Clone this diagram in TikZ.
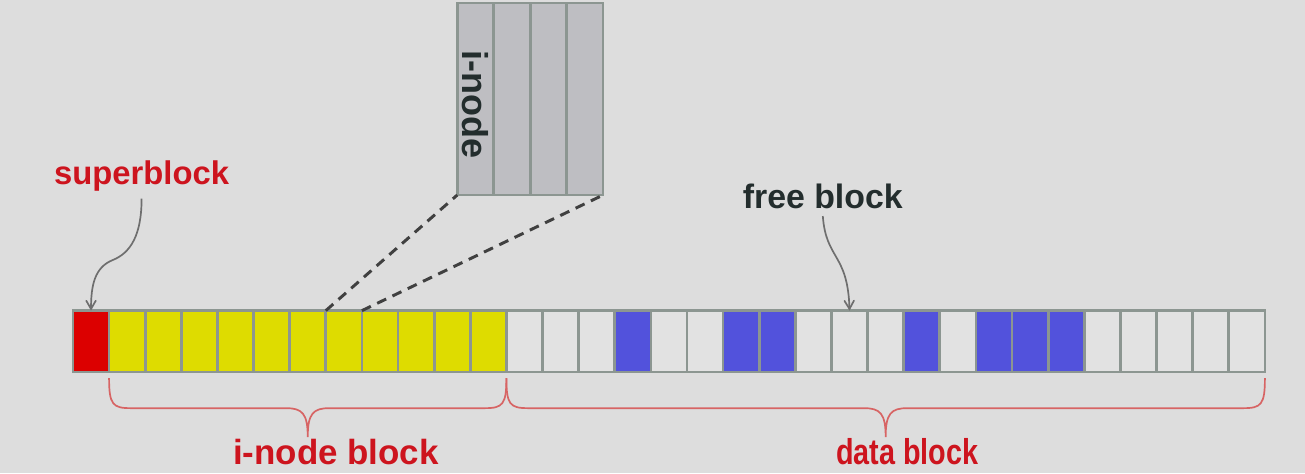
\documentclass[tikz,border=0pt]{standalone}
\usepackage{fontspec}
\setmainfont{Liberation Sans}
\usetikzlibrary{arrows}
\definecolor{bgcolor}{RGB}{221,221,221}
\definecolor{sbred}{RGB}{220,0,0}
\definecolor{inyellow}{RGB}{222,220,0}
\definecolor{usedblue}{RGB}{82,82,220}
\definecolor{freegray}{RGB}{226,226,226}
\definecolor{cellline}{RGB}{140,150,145}
\definecolor{slotgray}{RGB}{190,190,194}
\definecolor{labelred}{RGB}{205,20,30}
\definecolor{bracered}{RGB}{215,100,100}
\definecolor{arrowgray}{RGB}{110,110,110}
\definecolor{darktext}{RGB}{35,45,45}
\tikzset{
  cell/.style={
    rectangle,
    draw=cellline,
    line width=1.3pt,
    minimum width=0.6cm,
    minimum height=1.02cm,
    inner sep=0pt,
    outer sep=0pt
  },
  slot/.style={
    rectangle,
    draw=cellline,
    fill=slotgray,
    line width=1.2pt,
    minimum width=0.606cm,
    minimum height=3.19cm,
    inner sep=0pt,
    outer sep=0pt
  },
  curlbrace/.style={
    draw=bracered,
    line width=0.8pt
  }
}
\tikzstyle{arrow} = [->, >=angle 60, draw=arrowgray, line width=0.8pt]
\tikzstyle{zoomline} = [draw=black!75, line width=1.4pt, dash pattern=on 4.7pt off 3.3pt]
\def\lbl#1{\fontsize{16}{19}\selectfont\bfseries #1}
% brace under the strip: left end, tip, right end
\def\bracepath#1#2#3{(#1,-0.17) .. controls (#1,-0.9) and (#1+0.1,-1.0) .. (#1+0.6,-1.0) -- (#2-0.6,-1.0)
  .. controls (#2-0.15,-1.0) and (#2,-1.15) .. (#2,-1.8) .. controls (#2,-1.15) and (#2+0.15,-1.0) .. (#2+0.6,-1.0)
  -- (#3-0.6,-1.0) .. controls (#3-0.1,-1.0) and (#3,-0.9) .. (#3,-0.17)}

\begin{document}
\begin{tikzpicture}[x=0.6cm, y=0.6cm]
    \useasboundingbox[fill=bgcolor] (-2.02,-2.80) rectangle (34.11,10.30);
    % disk blocks
    \node[cell, fill=sbred] (c0) at (0.5, 0.85) {};
    \foreach \i in {1,...,11}
      \node[cell, fill=inyellow] (c\i) at (\i+0.5, 0.85) {};
    \foreach \i/\col in {12/freegray, 13/freegray, 14/freegray, 15/usedblue, 16/freegray, 17/freegray,
                         18/usedblue, 19/usedblue, 20/freegray, 21/freegray, 22/freegray, 23/usedblue,
                         24/freegray, 25/usedblue, 26/usedblue, 27/usedblue, 28/freegray, 29/freegray,
                         30/freegray, 31/freegray, 32/freegray}
      \node[cell, fill=\col] (c\i) at (\i+0.5, 0.85) {};
    % enlarged i-node block
    \foreach \k in {0,...,3}
      \node[slot] (s\k) at (11.145+1.01*\k, 7.56) {};
    \node[rotate=-90, text=darktext] (inode) at (11.145, 7.40) {\fontsize{17}{20}\selectfont\bfseries i-node};
    \draw[zoomline] (c6.north east) -- (s0.south west);
    \draw[zoomline] (c7.north east) -- (s3.south east);
    % labels
    \node[text=labelred] (sb) at (1.90, 5.43) {\fontsize{15.5}{18}\selectfont\bfseries superblock};
    \node[text=darktext] (fb) at (20.76, 4.87) {\lbl{free block}};
    \draw[arrow] (sb.south) .. controls (1.9,3.8) and (1.6,3.3) .. (1.1,3.1) .. controls (0.6,2.9) and (0.5,2.4) .. (c0.north);
    \draw[arrow] (fb.south) .. controls (20.85,3.1) and (21.45,3.3) .. (c21.north);
    % braces
    \draw[curlbrace] \bracepath{1.0}{6.5}{12.0};
    \draw[curlbrace] \bracepath{12.0}{22.5}{33.0};
    \node[text=labelred] (ib) at (7.28, -2.21) {\fontsize{16.5}{19}\selectfont\bfseries i-node block};
    \node[text=labelred, xscale=0.8, transform shape] (db) at (23.1, -2.21) {\fontsize{17}{20}\selectfont\bfseries data block};
\end{tikzpicture}
\end{document}
